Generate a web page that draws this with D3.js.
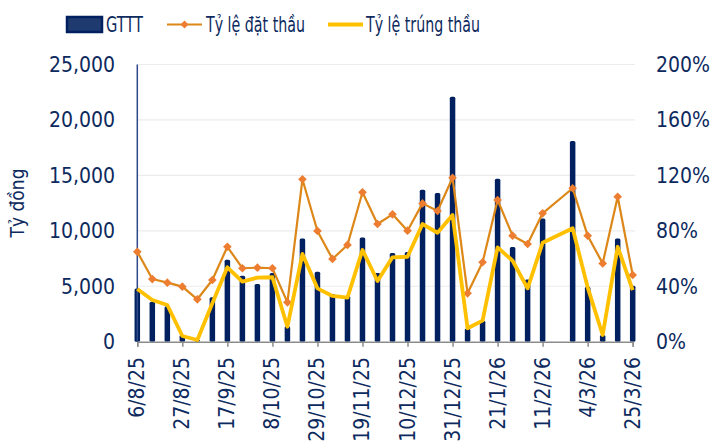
<!DOCTYPE html>
<html>
<head>
<meta charset="utf-8">
<script src="https://cdn.jsdelivr.net/npm/d3@7"></script>
<style>
  body { margin: 0; background: #fff; }
  svg text { font-family: "DejaVu Sans Condensed", "DejaVu Sans", sans-serif; font-stretch: condensed; fill: #0d2a5e; }
</style>
</head>
<body>
<svg id="chart" width="716" height="445"></svg>
<script>
const dates = [
  "6/8/25","13/8/25","20/8/25","27/8/25","3/9/25","10/9/25","17/9/25","24/9/25",
  "1/10/25","8/10/25","15/10/25","22/10/25","29/10/25","5/11/25","12/11/25","19/11/25",
  "26/11/25","3/12/25","10/12/25","17/12/25","24/12/25","31/12/25","7/1/26","14/1/26",
  "21/1/26","28/1/26","4/2/26","11/2/26","18/2/26","25/2/26","4/3/26","11/3/26",
  "18/3/26","25/3/26"
];
// GTTT, tỷ đồng
const gttt = [
  4800, 3600, 3200, 600, 150, 4000, 7400, 5950,
  5200, 6200, 1400, 9300, 6300, 4300, 4150, 9400,
  6200, 8000, 8100, 13700, 13400, 22100, 1200, 1900,
  14700, 8550, 5600, 11100, null, 18100, 4950, 600,
  9300, 5050
];
// Tỷ lệ đặt thầu, %
const datThau = [
  64.9, 45.2, 42.6, 39.7, 30.6, 44.5, 68.5, 53,
  53.4, 53, 28.4, 117.2, 79.9, 59.7, 69.8, 107.8,
  84.9, 91.9, 80.1, 99.8, 94.3, 118.3, 34.9, 57.3,
  102.2, 76.5, 70.5, 92.6, null, 110.7, 76.5, 56.5,
  104.6, 48.1
];
// Tỷ lệ trúng thầu, %
const trungThau = [
  38, 30.1, 26.5, 4.1, 1.2, 27.7, 53.7, 43.3,
  46.2, 46.5, 10.8, 63.3, 38.5, 33, 31.8, 66.2,
  43.8, 60.9, 61.3, 84.9, 78.6, 91.4, 9.7, 15.2,
  68.1, 58.4, 38.5, 71.4, null, 81.8, 39.2, 4.8,
  68.5, 37.3
];
const leftTicks = [0, 5000, 10000, 15000, 20000, 25000];
const rightTicks = [0, 40, 80, 120, 160, 200];
const labelDates = dates.filter((d, i) => i % 3 === 0);

const navy = "#002060";
const svg = d3.select("#chart");

const x = d3.scalePoint().domain(dates).range([137.3, 632.7]);
const yL = d3.scaleLinear().domain([0, 25000]).range([341.7, 64.5]);
const yR = d3.scaleLinear().domain([0, 200]).range([341.7, 64.5]);

// gridlines
svg.append("g")
  .selectAll("line")
  .data(leftTicks.slice(1))
  .join("line")
  .attr("x1", 137).attr("x2", 635)
  .attr("y1", d => yL(d)).attr("y2", d => yL(d))
  .attr("stroke", "#ececec").attr("stroke-width", 1.2);

// bars
const barW = 5.5;
svg.append("g")
  .selectAll("rect")
  .data(dates.map((d, i) => ({ d, v: gttt[i] })).filter(o => o.v != null))
  .join("rect")
  .attr("x", o => x(o.d) - barW / 2)
  .attr("width", barW)
  .attr("y", o => yL(o.v))
  .attr("height", o => yL(0) - yL(o.v))
  .attr("rx", 1.5)
  .attr("fill", navy);

// bottom axis
const xAxis = d3.axisBottom(x).tickValues(labelDates).tickSize(5).tickFormat("");
const gx = svg.append("g").attr("transform", `translate(0,${yL(0)})`).call(xAxis);
gx.select(".domain").attr("stroke", "#8c8c8c").attr("stroke-width", 1.5);
gx.selectAll(".tick line").attr("stroke", "#8c8c8c").attr("stroke-width", 1.5);

svg.append("g")
  .selectAll("text")
  .data(labelDates)
  .join("text")
  .attr("transform", d => `translate(${x(d) + 7},357) rotate(-90)`)
  .attr("text-anchor", "end")
  .attr("font-size", 21)
  .text(d => d);

// left axis line
svg.append("line")
  .attr("x1", 137.3).attr("x2", 137.3)
  .attr("y1", yL(25000)).attr("y2", yL(0))
  .attr("stroke", "#2f4a8a").attr("stroke-width", 1.5);

// left tick labels
svg.append("g")
  .selectAll("text")
  .data(leftTicks)
  .join("text")
  .attr("x", 115)
  .attr("y", d => yL(d) + 7.5)
  .attr("text-anchor", "end")
  .attr("font-size", 21)
  .text(d => d3.format(",")(d));

// right tick labels
svg.append("g")
  .selectAll("text")
  .data(rightTicks)
  .join("text")
  .attr("x", 656)
  .attr("y", d => yR(d) + 7.5)
  .attr("text-anchor", "start")
  .attr("font-size", 21)
  .text(d => d + "%");

// y title
svg.append("text")
  .attr("transform", "translate(24,203) rotate(-90)")
  .attr("text-anchor", "middle")
  .attr("font-size", 19)
  .text("Tỷ đồng");

// lines
const linePts = arr => dates.map((d, i) => ({ d, v: arr[i] })).filter(o => o.v != null);
const line = d3.line().x(o => x(o.d)).y(o => yR(o.v));

svg.append("path")
  .datum(linePts(datThau))
  .attr("d", line)
  .attr("fill", "none")
  .attr("stroke", "#dc8718")
  .attr("stroke-width", 2.2)
  .attr("stroke-linejoin", "round");

svg.append("g")
  .selectAll("path")
  .data(linePts(datThau))
  .join("path")
  .attr("d", d3.symbol(d3.symbolDiamond2, 48))
  .attr("transform", o => `translate(${x(o.d)},${yR(o.v)})`)
  .attr("fill", "#ed7d31");

svg.append("path")
  .datum(linePts(trungThau))
  .attr("d", line)
  .attr("fill", "none")
  .attr("stroke", "#ffc000")
  .attr("stroke-width", 3.8)
  .attr("stroke-linejoin", "round");

// legend (text is narrower in the original)
const lg = svg.append("g");
lg.append("rect")
  .attr("x", 67).attr("y", 17).attr("width", 35).attr("height", 15)
  .attr("fill", "#1f3a6e").attr("stroke", navy).attr("stroke-width", 2.5);
lg.append("text").attr("x", 106).attr("y", 32).attr("font-size", 21)
  .attr("textLength", 37).attr("lengthAdjust", "spacingAndGlyphs").text("GTTT");

lg.append("line").attr("x1", 167).attr("x2", 202).attr("y1", 24.5).attr("y2", 24.5)
  .attr("stroke", "#dc8718").attr("stroke-width", 2.2);
lg.append("path").attr("d", d3.symbol(d3.symbolDiamond2, 40))
  .attr("transform", "translate(184.5,24.5)").attr("fill", "#ed7d31");
lg.append("text").attr("x", 206).attr("y", 32).attr("font-size", 21)
  .attr("textLength", 99).attr("lengthAdjust", "spacingAndGlyphs").text("Tỷ lệ đặt thầu");

lg.append("line").attr("x1", 328).attr("x2", 363).attr("y1", 24.5).attr("y2", 24.5)
  .attr("stroke", "#ffc000").attr("stroke-width", 3.8);
lg.append("text").attr("x", 366).attr("y", 32).attr("font-size", 21)
  .attr("textLength", 114).attr("lengthAdjust", "spacingAndGlyphs").text("Tỷ lệ trúng thầu");
</script>
</body>
</html>
